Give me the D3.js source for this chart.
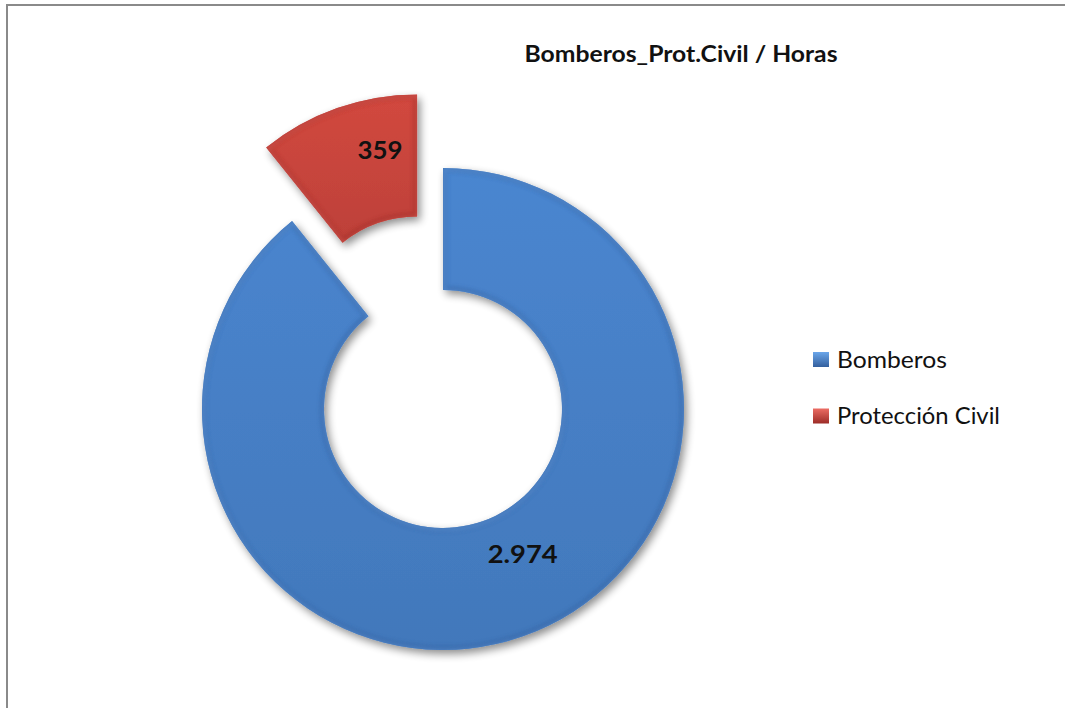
<!DOCTYPE html>
<html>
<head>
<meta charset="utf-8">
<script src="https://cdn.jsdelivr.net/npm/d3@7"></script>
<style>
  html, body { margin: 0; padding: 0; background: #fff; overflow: hidden; }
  svg { display: block; }
  text { font-family: Lato, "Open Sans", sans-serif; fill: #111; }
</style>
</head>
<body>
<svg id="chart" width="1065" height="708"></svg>
<script>
const categorias = ["Bomberos", "Protección Civil"];
const horas = [2974, 359];
const etiquetas = ["2.974", "359"];
const titulo = "Bomberos_Prot.Civil / Horas";

const colores = {
  "Bomberos": { luz: "#6aa6ea", base: "#4a86d0", sombra: "#34609e" },
  "Protección Civil": { luz: "#ec6c63", base: "#d2483f", sombra: "#9c2c27" }
};

const width = 1065, height = 708;
const cx = 443, cy = 409;
const rExt = 241, rInt = 119;
const explosion = { "Protección Civil": 78 };
// posición de las etiquetas (ángulo en grados desde arriba, radio) y ancho del texto
const posEtiqueta = { "Bomberos": [151.3, 166, 70], "Protección Civil": [-11.4, 188, 45] };
const anchoLeyenda = { "Bomberos": 110, "Protección Civil": 163 };

const svg = d3.select("#chart");
const defs = svg.append("defs");

// marco (sólo lados superior e izquierdo visibles)
svg.append("path")
  .attr("d", `M7,${height} V5 H${width}`)
  .attr("fill", "none").attr("stroke", "#8a8a8a").attr("stroke-width", 2);

const sombra = defs.append("filter").attr("id", "sombra")
  .attr("x", "-20%").attr("y", "-20%").attr("width", "140%").attr("height", "140%");
sombra.append("feGaussianBlur").attr("in", "SourceAlpha").attr("stdDeviation", 4).attr("result", "b");
sombra.append("feOffset").attr("in", "b").attr("dx", 3).attr("dy", 4).attr("result", "o");
sombra.append("feComponentTransfer").attr("in", "o").attr("result", "s")
  .append("feFuncA").attr("type", "linear").attr("slope", 0.45);
const merge = sombra.append("feMerge");
merge.append("feMergeNode").attr("in", "s");
merge.append("feMergeNode").attr("in", "SourceGraphic");

const bisel = defs.append("filter").attr("id", "bisel");
bisel.append("feGaussianBlur").attr("stdDeviation", 2.2);

categorias.forEach((c, i) => {
  const g = defs.append("linearGradient").attr("id", "grad" + i)
    .attr("x1", 0).attr("y1", 0).attr("x2", 0).attr("y2", 1);
  g.append("stop").attr("offset", "0%").attr("stop-color", colores[c].base);
  g.append("stop").attr("offset", "100%").attr("stop-color", d3.color(colores[c].base).darker(0.3));
  const gl = defs.append("linearGradient").attr("id", "gradLeyenda" + i)
    .attr("x1", 0).attr("y1", 0).attr("x2", 0).attr("y2", 1);
  gl.append("stop").attr("offset", "0%").attr("stop-color", colores[c].luz);
  gl.append("stop").attr("offset", "100%").attr("stop-color", colores[c].sombra);
});

const pie = d3.pie().sort(null).value(d => d.valor);
const datos = categorias.map((c, i) => ({ categoria: c, valor: horas[i], etiqueta: etiquetas[i], i }));
const arcos = pie(datos);
const arco = d3.arc().innerRadius(rInt).outerRadius(rExt);

const grupo = svg.append("g").attr("transform", `translate(${cx},${cy})`);

const porciones = grupo.selectAll("g.porcion")
  .data(arcos)
  .join("g")
  .attr("class", "porcion")
  .attr("transform", d => {
    const e = explosion[d.data.categoria] || 0;
    const a = (d.startAngle + d.endAngle) / 2;
    return `translate(${e * Math.sin(a)},${-e * Math.cos(a)})`;
  });

porciones.each(function(d) {
  const g = d3.select(this);
  const id = "clip" + d.data.i;
  defs.append("clipPath").attr("id", id).append("path").attr("d", arco(d));
  g.append("path")
    .attr("d", arco(d))
    .attr("fill", `url(#grad${d.data.i})`)
    .attr("filter", "url(#sombra)");
  const interior = g.append("g").attr("clip-path", `url(#${id})`);
  // bisel: borde oscuro y brillo claro
  interior.append("path")
    .attr("d", arco(d))
    .attr("fill", "none")
    .attr("stroke", colores[d.data.categoria].sombra)
    .attr("stroke-width", 7)
    .attr("opacity", 0.6)
    .attr("filter", "url(#bisel)");
  interior.append("path")
    .attr("d", arco(d))
    .attr("fill", "none")
    .attr("stroke", colores[d.data.categoria].luz)
    .attr("stroke-width", 3)
    .attr("opacity", 0.6)
    .attr("transform", "translate(1,1)")
    .attr("filter", "url(#bisel)");
});

porciones.append("text")
  .attr("text-anchor", "middle")
  .attr("font-weight", "bold")
  .attr("font-size", 24)
  .attr("textLength", d => posEtiqueta[d.data.categoria][2])
  .attr("lengthAdjust", "spacingAndGlyphs")
  .attr("x", d => {
    const [ang, r] = posEtiqueta[d.data.categoria];
    return r * Math.sin(ang * Math.PI / 180);
  })
  .attr("y", d => {
    const [ang, r] = posEtiqueta[d.data.categoria];
    return -r * Math.cos(ang * Math.PI / 180) + 8;
  })
  .text(d => d.data.etiqueta);

// título
svg.append("text")
  .attr("x", 681).attr("y", 62)
  .attr("text-anchor", "middle")
  .attr("font-weight", "bold")
  .attr("font-size", 23)
  .attr("textLength", 313)
  .attr("lengthAdjust", "spacingAndGlyphs")
  .text(titulo);

// leyenda
const leyenda = svg.append("g").attr("transform", "translate(813,352)");
const items = leyenda.selectAll("g")
  .data(categorias)
  .join("g")
  .attr("transform", (d, i) => `translate(0,${i * 56.5})`);
items.append("rect")
  .attr("width", 16).attr("height", 15)
  .attr("fill", (d, i) => `url(#gradLeyenda${i})`);
items.append("text")
  .attr("x", 24).attr("y", 15.5)
  .attr("font-size", 23)
  .attr("textLength", d => anchoLeyenda[d])
  .attr("lengthAdjust", "spacingAndGlyphs")
  .text(d => d);
</script>
</body>
</html>
